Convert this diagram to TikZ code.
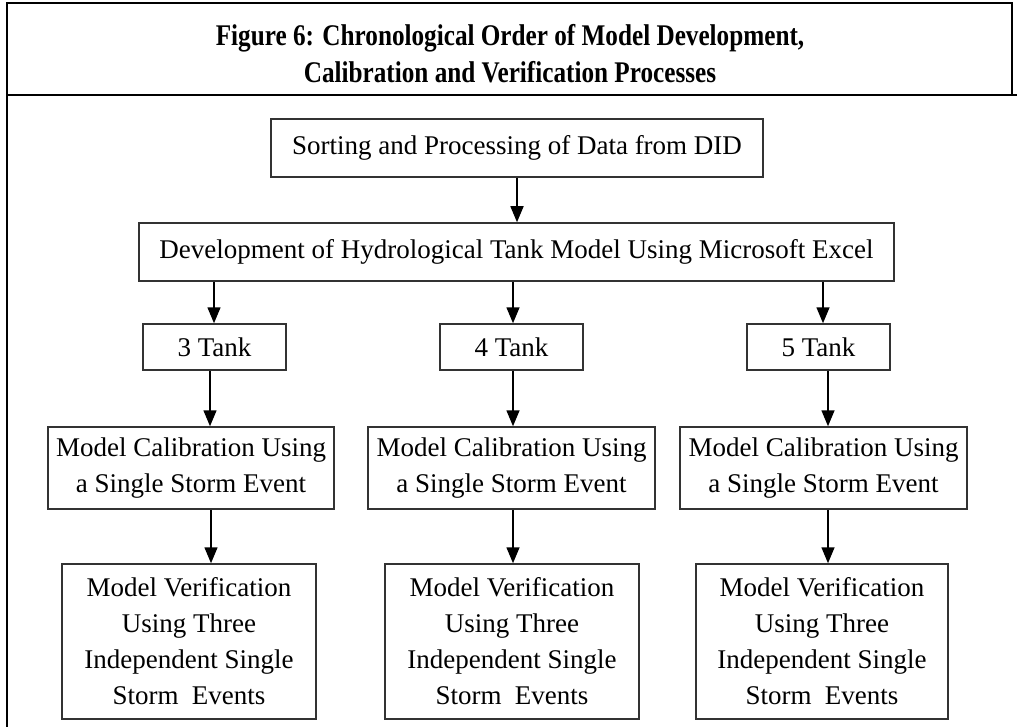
\documentclass[tikz,border=0pt]{standalone}
\usepackage{fontspec}
\setmainfont{Liberation Serif}
\usepackage{graphicx}
\usetikzlibrary{arrows.meta}
\begin{document}
\begin{tikzpicture}[x=0.5pt,y=-0.5pt,
  box/.style={draw=black!80,line width=0.75pt,inner sep=0pt,align=center,
    font=\fontsize{13.5}{18}\selectfont},
  arr/.style={draw=black,line width=0.75pt,-{Triangle[length=8pt,width=6.5pt]}},
  frame/.style={draw=black,line width=1pt},
  ttl/.style={inner sep=0pt,font=\fontsize{15}{18}\selectfont\bfseries}]
\useasboundingbox (0,0) rectangle (1017,727);
% frame
\draw[frame] (7,95) -- (7,727);
\draw[frame] (7,95) -- (7,3) -- (1012,3) -- (1012,95);
\draw[frame] (7,95) -- (1017,95);
\node[ttl] (t1) at (510,38) {\scalebox{0.84}[1]{Figure 6: Chronological Order of Model Development,}};
\node[ttl] (t2) at (510,72) {\scalebox{0.84}[1]{Calibration and Verification Processes}};
% boxes
\node[box,minimum width=246pt,minimum height=29pt] (sort) at (517,148) {Sorting and Processing of Data from DID};
\node[box,minimum width=377.5pt,minimum height=29pt] (dev) at (516.5,252) {Development of Hydrological Tank Model Using Microsoft Excel};
\node[box,minimum width=71.5pt,minimum height=23pt] (t3) at (214.5,347) {3 Tank};
\node[box,minimum width=71.5pt,minimum height=23pt] (t4) at (511.5,347) {4 Tank};
\node[box,minimum width=71.5pt,minimum height=23pt] (t5) at (818.5,347) {5 Tank};
\node[box,minimum width=143pt,minimum height=41pt] (c1) at (191,468) {Model Calibration Using\\a Single Storm Event};
\node[box,minimum width=143.5pt,minimum height=41pt] (c2) at (511.5,468) {Model Calibration Using\\a Single Storm Event};
\node[box,minimum width=143.5pt,minimum height=41pt] (c3) at (823.5,468) {Model Calibration Using\\a Single Storm Event};
\node[box,minimum width=127pt,minimum height=77.5pt] (v1) at (189,641.5) {Model Verification\\Using Three\\Independent Single\\Storm\enspace Events};
\node[box,minimum width=127pt,minimum height=77.5pt] (v2) at (512,641.5) {Model Verification\\Using Three\\Independent Single\\Storm\enspace Events};
\node[box,minimum width=126pt,minimum height=77.5pt] (v3) at (822,641.5) {Model Verification\\Using Three\\Independent Single\\Storm\enspace Events};
% arrow columns
\coordinate (xa) at (517,0);
\coordinate (xb) at (214,0);
\coordinate (xc) at (513,0);
\coordinate (xd) at (823,0);
\coordinate (xe) at (210,0);
\coordinate (xf) at (828,0);
\coordinate (xg) at (211,0);
\draw[arr] (sort.south -| xa) -- (dev.north -| xa);
\draw[arr] (dev.south -| xb) -- (t3.north -| xb);
\draw[arr] (dev.south -| xc) -- (t4.north -| xc);
\draw[arr] (dev.south -| xd) -- (t5.north -| xd);
\draw[arr] (t3.south -| xe) -- (c1.north -| xe);
\draw[arr] (t4.south -| xc) -- (c2.north -| xc);
\draw[arr] (t5.south -| xf) -- (c3.north -| xf);
\draw[arr] (c1.south -| xg) -- (v1.north -| xg);
\draw[arr] (c2.south -| xc) -- (v2.north -| xc);
\draw[arr] (c3.south -| xf) -- (v3.north -| xf);
\end{tikzpicture}
\end{document}
